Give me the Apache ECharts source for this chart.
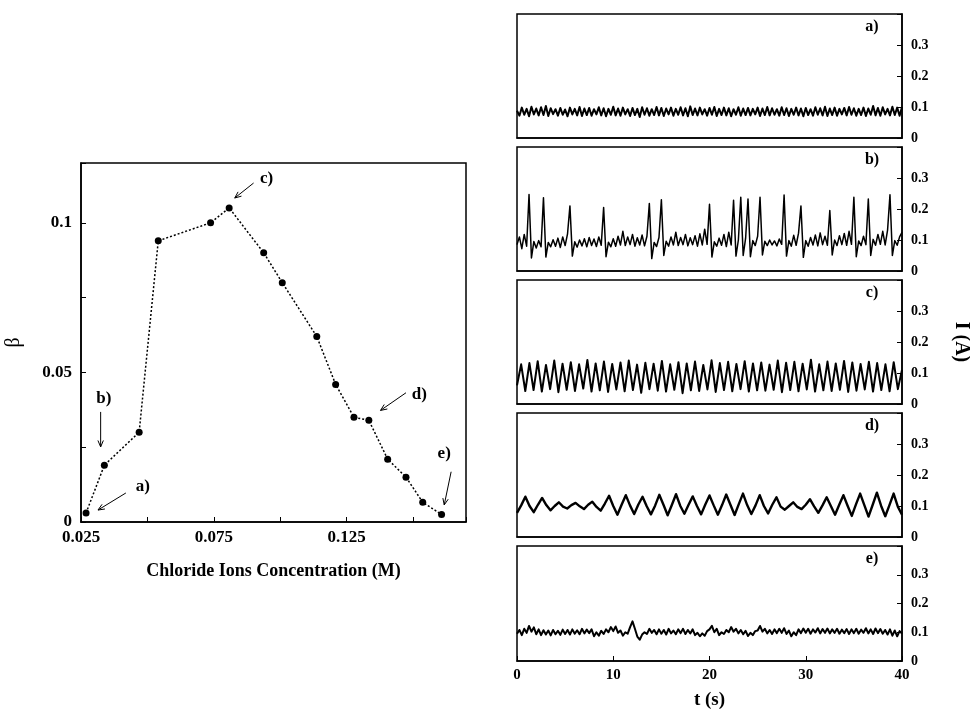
<!DOCTYPE html>
<html>
<head>
<meta charset="utf-8">
<script src="https://cdn.jsdelivr.net/npm/echarts@6/dist/echarts.min.js"></script>
<style>
  html, body { margin: 0; background: #fff; }
  #main { width: 970px; height: 711px; }
</style>
</head>
<body>
<div id="main"></div>
<script>
// left plot: beta vs chloride concentration
var conc = [0.0269, 0.0338, 0.0469, 0.0541, 0.0738, 0.0808, 0.0938, 0.1008,
            0.1138, 0.1209, 0.1278, 0.1334, 0.1405, 0.1474, 0.1537, 0.1608];
var beta = [0.003, 0.019, 0.030, 0.094, 0.100, 0.105, 0.090, 0.080,
            0.062, 0.046, 0.035, 0.034, 0.021, 0.015, 0.0066, 0.0025];

// arrow annotations (data coords of the left plot)
var annoText = ['a)', 'b)', 'c)', 'd)', 'e)'];
var annoLabel = [[0.0483, 0.0117], [0.0336, 0.0413], [0.0949, 0.1147], [0.1524, 0.0427], [0.1618, 0.0230]];
var annoFrom = [[0.0419, 0.0097], [0.0324, 0.0368], [0.0900, 0.1133], [0.1474, 0.0432], [0.1644, 0.0168]];
var annoTo = [[0.0314, 0.0040], [0.0324, 0.0251], [0.0829, 0.1083], [0.1378, 0.0373], [0.1618, 0.0057]];

// right panels: current time series I (A)
var panelNames = ['a)', 'b)', 'c)', 'd)', 'e)'];

var aVals = [
  0.088,0.072,0.098,0.075,0.094,0.070,0.101,0.076,0.095,0.073,
  0.099,0.074,0.103,0.071,0.096,0.077,0.093,0.072,0.097,0.075,
  0.092,0.070,0.098,0.076,0.094,0.073,0.100,0.071,0.095,0.074,
  0.097,0.072,0.093,0.076,0.099,0.073,0.096,0.070,0.094,0.075,
  0.101,0.073,0.095,0.072,0.098,0.076,0.093,0.071,0.097,0.074,
  0.094,0.068,0.099,0.075,0.096,0.072,0.093,0.074,0.100,0.073,
  0.097,0.071,0.095,0.076,0.098,0.072,0.094,0.075,0.099,0.073,
  0.096,0.070,0.102,0.074,0.095,0.073,0.098,0.076,0.093,0.072,
  0.097,0.075,0.100,0.071,0.094,0.074,0.098,0.073,0.096,0.070,
  0.093,0.075,0.099,0.072,0.095,0.074,0.097,0.073,0.094,0.076,
  0.098,0.071,0.095,0.074,0.100,0.073,0.096,0.075,0.093,0.072,
  0.099,0.074,0.096,0.071,0.094,0.075,0.098,0.073,0.095,0.070,
  0.097,0.074,0.093,0.072,0.099,0.075,0.096,0.073,0.101,0.071,
  0.095,0.074,0.098,0.072,0.094,0.076,0.097,0.073,0.100,0.075,
  0.096,0.072,0.094,0.074,0.098,0.071,0.095,0.075,0.103,0.073,
  0.097,0.072,0.099,0.076,0.094,0.073,0.101,0.074,0.098,0.072,
  0.100
];

var bVals = [
  0.085,0.110,0.072,0.118,0.080,0.247,0.042,0.095,0.074,0.098,
  0.078,0.236,0.045,0.092,0.078,0.101,0.080,0.106,0.076,0.110,
  0.082,0.120,0.210,0.048,0.094,0.077,0.100,0.081,0.104,0.078,
  0.108,0.082,0.103,0.079,0.110,0.083,0.205,0.046,0.093,0.078,
  0.104,0.080,0.112,0.084,0.128,0.082,0.110,0.085,0.118,0.080,
  0.107,0.084,0.116,0.081,0.112,0.218,0.040,0.092,0.079,0.108,
  0.230,0.050,0.096,0.080,0.110,0.084,0.125,0.082,0.108,0.085,
  0.118,0.081,0.107,0.085,0.114,0.080,0.120,0.084,0.135,0.086,
  0.215,0.045,0.094,0.080,0.106,0.083,0.118,0.079,0.125,0.084,
  0.228,0.048,0.100,0.238,0.050,0.105,0.232,0.046,0.098,0.082,
  0.112,0.238,0.052,0.096,0.082,0.100,0.084,0.097,0.081,0.103,
  0.086,0.245,0.048,0.098,0.080,0.115,0.083,0.122,0.210,0.044,
  0.098,0.080,0.108,0.084,0.116,0.081,0.123,0.085,0.112,0.083,
  0.195,0.052,0.100,0.082,0.114,0.085,0.121,0.083,0.128,0.086,
  0.238,0.046,0.097,0.082,0.112,0.085,0.232,0.050,0.102,0.083,
  0.118,0.086,0.128,0.084,0.132,0.246,0.050,0.098,0.083,0.110,
  0.125
];

var cVals = [
  0.060,0.128,0.042,0.132,0.045,0.138,0.040,0.126,0.048,0.140,
  0.038,0.130,0.046,0.135,0.042,0.128,0.050,0.142,0.040,0.131,
  0.044,0.137,0.039,0.129,0.047,0.134,0.041,0.140,0.045,0.127,
  0.036,0.133,0.048,0.130,0.043,0.139,0.040,0.128,0.046,0.135,
  0.035,0.131,0.044,0.137,0.042,0.126,0.047,0.141,0.039,0.132,
  0.045,0.136,0.041,0.129,0.048,0.138,0.040,0.131,0.044,0.134,
  0.043,0.127,0.046,0.140,0.038,0.133,0.045,0.136,0.041,0.130,
  0.047,0.143,0.040,0.128,0.044,0.137,0.042,0.131,0.046,0.139,
  0.039,0.134,0.043,0.129,0.047,0.136,0.040,0.132,0.045,0.128,
  0.041,0.135,0.048,0.110
];

var dVals = [
  0.078,0.102,0.130,0.100,0.080,0.104,0.126,0.103,0.086,0.100,
  0.112,0.098,0.092,0.103,0.110,0.099,0.090,0.104,0.114,0.097,
  0.085,0.108,0.133,0.100,0.072,0.104,0.135,0.102,0.074,0.105,
  0.130,0.099,0.073,0.101,0.136,0.104,0.070,0.103,0.138,0.101,
  0.075,0.104,0.131,0.100,0.073,0.105,0.134,0.102,0.072,0.103,
  0.137,0.104,0.071,0.106,0.140,0.103,0.074,0.102,0.135,0.100,
  0.076,0.104,0.128,0.098,0.088,0.100,0.112,0.097,0.090,0.104,
  0.122,0.099,0.078,0.102,0.128,0.100,0.072,0.104,0.135,0.101,
  0.068,0.105,0.140,0.103,0.066,0.104,0.143,0.101,0.067,0.103,
  0.140,0.098,0.072
];

var eVals = [
  0.095,0.108,0.090,0.112,0.098,0.122,0.102,0.117,0.093,0.110,
  0.090,0.107,0.092,0.106,0.089,0.108,0.093,0.105,0.091,0.109,
  0.094,0.108,0.092,0.110,0.095,0.107,0.093,0.112,0.096,0.109,
  0.097,0.110,0.086,0.100,0.088,0.105,0.094,0.110,0.100,0.118,
  0.104,0.120,0.098,0.106,0.088,0.100,0.095,0.118,0.138,0.112,
  0.085,0.074,0.092,0.100,0.094,0.112,0.098,0.108,0.093,0.110,
  0.095,0.108,0.092,0.112,0.096,0.106,0.093,0.110,0.097,0.112,
  0.094,0.108,0.096,0.110,0.090,0.098,0.086,0.096,0.088,0.104,
  0.110,0.122,0.100,0.112,0.090,0.100,0.094,0.108,0.100,0.118,
  0.102,0.112,0.096,0.108,0.093,0.105,0.087,0.098,0.090,0.104,
  0.106,0.122,0.102,0.112,0.096,0.108,0.094,0.110,0.097,0.112,
  0.098,0.114,0.094,0.106,0.086,0.100,0.090,0.110,0.097,0.113,
  0.098,0.112,0.095,0.110,0.099,0.114,0.096,0.111,0.098,0.113,
  0.096,0.110,0.098,0.112,0.095,0.109,0.097,0.111,0.094,0.110,
  0.097,0.112,0.095,0.109,0.098,0.114,0.096,0.110,0.094,0.113,
  0.097,0.111,0.095,0.108,0.092,0.110,0.088,0.106,0.086,0.104,
  0.095
];

var panelVals = [aVals, bVals, cVals, dVals, eVals];
var tEnd = 40;

var font = 'Liberation Serif';
var black = '#000';
var panelTop = [14, 147, 280, 413, 546];
var panelLeft = 517, panelW = 385, panelH = 124;
var traceWidth = [2, 1.5, 2, 2.4, 2];

var chart = echarts.init(document.getElementById('main'));

var grids = [{ left: 81, top: 163, width: 385, height: 359, show: true, borderColor: black, borderWidth: 1.5 }];
var xAxes = [{
  gridIndex: 0, type: 'value', min: 0.025, max: 0.17, interval: 0.025,
  axisLine: { onZero: false, lineStyle: { color: black, width: 1.5 } },
  axisTick: { inside: true, length: 5, lineStyle: { color: black } },
  splitLine: { show: false },
  axisLabel: {
    color: black, fontFamily: font, fontWeight: 'bold', fontSize: 17, margin: 7,
    formatter: function (v) {
      var k = Math.round((v - 0.025) / 0.025);
      return (k % 2 === 0 && k <= 4) ? v.toFixed(3) : '';
    }
  },
  name: 'Chloride Ions Concentration (M)', nameLocation: 'middle', nameGap: 40,
  nameTextStyle: { color: black, fontFamily: font, fontWeight: 'bold', fontSize: 18 }
}];
var yAxes = [{
  gridIndex: 0, type: 'value', min: 0, max: 0.12, interval: 0.025,
  axisLine: { onZero: false, lineStyle: { color: black, width: 1.5 } },
  axisTick: { inside: true, length: 5, lineStyle: { color: black } },
  splitLine: { show: false },
  axisLabel: {
    color: black, fontFamily: font, fontWeight: 'bold', fontSize: 17, margin: 9,
    formatter: function (v) {
      var k = Math.round(v / 0.025);
      return k === 0 ? '0' : k === 2 ? '0.05' : k === 4 ? '0.1' : '';
    }
  },
  name: 'β', nameLocation: 'middle', nameGap: 57,
  nameTextStyle: { color: black, fontFamily: font, fontSize: 20 }
}];
var series = [{
  type: 'line', xAxisIndex: 0, yAxisIndex: 0,
  data: conc.map(function (c, i) { return [c, beta[i]]; }),
  symbol: 'circle', symbolSize: 7,
  itemStyle: { color: black },
  lineStyle: { color: black, width: 1.5, type: [2, 2] }
}];

panelTop.forEach(function (top, i) {
  var last = i === panelTop.length - 1;
  var vals = panelVals[i];
  var step = tEnd / (vals.length - 1);
  grids.push({ left: panelLeft, top: top, width: panelW, height: panelH, show: true, borderColor: black, borderWidth: 1.5 });
  xAxes.push({
    gridIndex: i + 1, type: 'value', min: 0, max: 40, interval: 10,
    axisLine: { onZero: false, lineStyle: { color: black, width: 1.5 } },
    axisTick: { show: last, inside: true, length: 5, lineStyle: { color: black } },
    splitLine: { show: false },
    axisLabel: { show: last, color: black, fontFamily: font, fontWeight: 'bold', fontSize: 15, margin: 7 },
    name: last ? 't (s)' : '', nameLocation: 'middle', nameGap: 30,
    nameTextStyle: { color: black, fontFamily: font, fontWeight: 'bold', fontSize: 19 }
  });
  yAxes.push({
    gridIndex: i + 1, type: 'value', position: 'right', min: 0, max: 0.4, interval: 0.1,
    axisLine: { onZero: false, lineStyle: { color: black, width: 1.5 } },
    axisTick: { inside: true, length: 5, lineStyle: { color: black } },
    splitLine: { show: false },
    axisLabel: {
      color: black, fontFamily: font, fontWeight: 'bold', fontSize: 14, margin: 9,
      formatter: function (v) { return v > 0.35 ? '' : (v === 0 ? '0' : v.toFixed(1)); }
    }
  });
  series.push({
    type: 'line', xAxisIndex: i + 1, yAxisIndex: i + 1,
    data: vals.map(function (v, j) { return [j * step, v]; }),
    showSymbol: false, symbol: 'none',
    lineStyle: { color: black, width: traceWidth[i], join: 'round' }
  });
});

chart.setOption({
  animation: false,
  backgroundColor: '#fff',
  textStyle: { fontFamily: font },
  grid: grids, xAxis: xAxes, yAxis: yAxes, series: series
});

// annotations and labels
var gfx = [];
panelNames.forEach(function (n, i) {
  gfx.push({
    type: 'text', x: panelLeft + panelW - 30, y: panelTop[i] + 13,
    style: { text: n, font: 'bold 16px "Liberation Serif"', fill: black, textAlign: 'center', textVerticalAlign: 'middle' }
  });
});
gfx.push({
  type: 'text', x: 961, y: 342, rotation: -Math.PI / 2,
  style: { text: 'I (A)', font: 'bold 20px "Liberation Serif"', fill: black, textAlign: 'center', textVerticalAlign: 'middle' }
});
annoText.forEach(function (t, i) {
  var lp = chart.convertToPixel({ gridIndex: 0 }, annoLabel[i]);
  var p0 = chart.convertToPixel({ gridIndex: 0 }, annoFrom[i]);
  var p1 = chart.convertToPixel({ gridIndex: 0 }, annoTo[i]);
  var ang = Math.atan2(p1[1] - p0[1], p1[0] - p0[0]);
  var h = 7, spread = 0.4;
  gfx.push({
    type: 'text', x: lp[0], y: lp[1],
    style: { text: t, font: 'bold 17px "Liberation Serif"', fill: black, textAlign: 'center', textVerticalAlign: 'middle' }
  });
  gfx.push({
    type: 'line', shape: { x1: p0[0], y1: p0[1], x2: p1[0], y2: p1[1] },
    style: { stroke: black, lineWidth: 1 }
  });
  gfx.push({
    type: 'polyline',
    shape: { points: [
      [p1[0] - h * Math.cos(ang - spread), p1[1] - h * Math.sin(ang - spread)],
      [p1[0], p1[1]],
      [p1[0] - h * Math.cos(ang + spread), p1[1] - h * Math.sin(ang + spread)]
    ] },
    style: { stroke: black, lineWidth: 1, fill: null }
  });
});
chart.setOption({ graphic: gfx });
</script>
</body>
</html>
